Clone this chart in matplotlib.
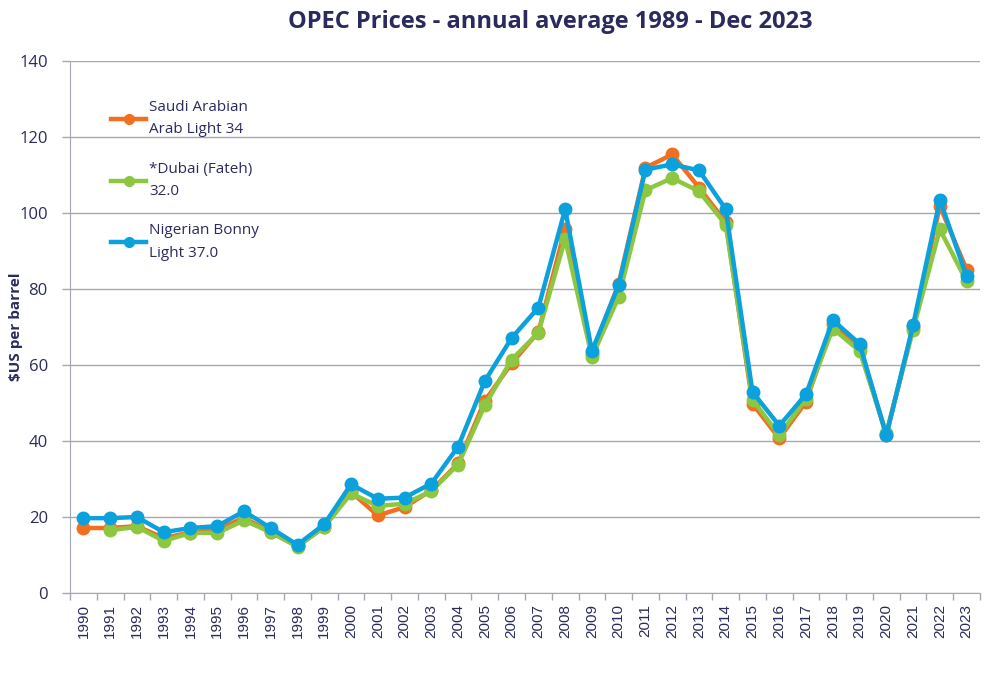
import matplotlib
matplotlib.use("Agg")
import matplotlib.pyplot as plt
import numpy as np

years = [str(y) for y in range(1990, 2024)]
saudi = [17.1, 17.1, 17.6, 14.5, 15.9, 16.7, 19.8, 16.0, 12.3, 17.4,
         26.6, 20.4, 22.6, 27.0, 34.1, 50.6, 60.4, 68.7, 95.9, 62.9,
         81.4, 111.9, 115.4, 106.7, 97.6, 49.8, 40.7, 50.3, 70.9, 64.7,
         41.5, 70.0, 101.8, 85.1]
dubai = [None, 16.5, 17.4, 13.7, 15.8, 15.8, 19.1, 16.0, 12.2, 17.4,
         26.2, 22.9, 23.5, 26.8, 33.8, 49.4, 61.4, 68.5, 93.2, 62.1,
         77.9, 106.0, 109.2, 105.7, 96.9, 50.9, 41.5, 51.1, 69.6, 63.7,
         42.1, 69.3, 95.7, 82.0]
bonny = [19.7, 19.7, 20.0, 16.0, 17.1, 17.6, 21.5, 17.1, 12.7, 18.1,
         28.6, 24.8, 25.1, 28.8, 38.5, 55.8, 67.1, 75.1, 101.0, 63.7,
         81.0, 111.4, 112.8, 111.2, 101.0, 52.9, 44.0, 52.3, 71.8, 65.6,
         41.5, 70.5, 103.5, 83.3]
labels = ["Saudi Arabian\nArab Light 34", "*Dubai (Fateh)\n32.0", "Nigerian Bonny\nLight 37.0"]
colors = ["#F26F21", "#8DC63F", "#0AA1DD"]
title = "OPEC Prices - annual average 1989 - Dec 2023"
ylabel = "$US per barrel"

navy = "#2B2A5E"
grid = "#A7A6B4"

fig = plt.figure(figsize=(10, 6.85), dpi=100)
ax = fig.add_axes([0.07, 0.1343, 0.91, 0.7767])

x = np.arange(len(years))
for series, lab, col in zip([saudi, dubai, bonny], labels, colors):
    arr = np.array([np.nan if v is None else v for v in series], dtype=float)
    ax.plot(x, arr, color=col, lw=3.2, marker="o", ms=9, label=lab,
            solid_joinstyle="round")

ax.set_xlim(-0.5, len(years) - 0.5)
ax.set_ylim(0, 140)
ax.set_yticks(np.arange(0, 141, 20))
ax.set_xticks(x)
ax.set_xticklabels(years, rotation=90, fontsize=11, color=navy, family="Liberation Sans")
ax.set_xticks(np.arange(-0.5, len(years), 1), minor=True)
ax.tick_params(axis="x", which="major", length=0, pad=8)
ax.tick_params(axis="x", which="minor", length=5, color=grid, width=1)
ax.tick_params(axis="y", length=6, color=grid, width=1, labelsize=12, labelcolor=navy, pad=10)
for lbl in ax.get_yticklabels():
    lbl.set_family("Open Sans")

ax.grid(axis="y", color=grid, lw=1)
ax.set_axisbelow(True)
for s in ["top", "right"]:
    ax.spines[s].set_visible(False)
ax.spines["left"].set_color(grid)
ax.spines["bottom"].set_color(grid)

ax.set_ylabel(ylabel, fontsize=11, fontweight="bold", color=navy, family="Open Sans")
ax.yaxis.set_label_coords(-0.052, 0.5)
fig.suptitle(title, fontsize=17, fontweight="bold", color=navy, family="Open Sans", x=0.55, y=0.985)

leg = ax.legend(loc="upper left", bbox_to_anchor=(0.03, 0.952), frameon=False,
                handlelength=2.3, handletextpad=0.2, labelspacing=1.6,
                prop={"family": "Open Sans", "size": 11})
for t in leg.get_texts():
    t.set_color(navy)
    t.set_linespacing(1.65)
for h in leg.legend_handles:
    h.set_markersize(7)

fig.savefig("out.png", dpi=100)
